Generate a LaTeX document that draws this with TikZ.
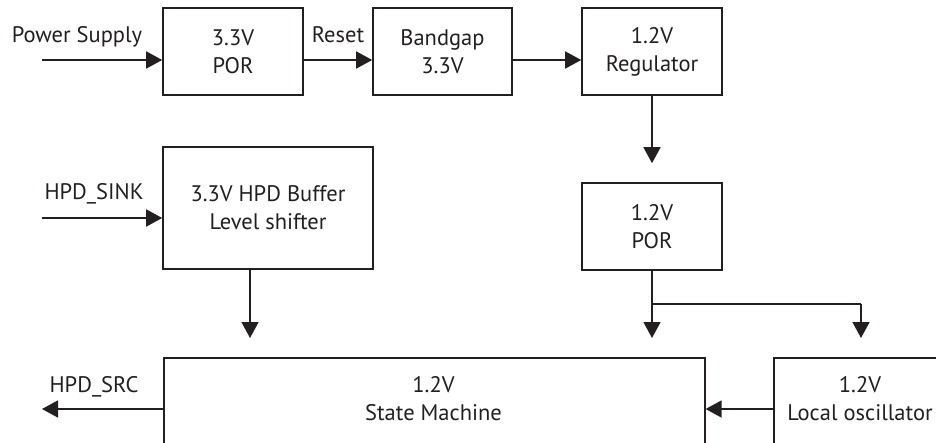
\documentclass[tikz,border=0pt]{standalone}
\usepackage{fontspec}
\setmainfont{PT Sans}
\usetikzlibrary{arrows.meta}
\definecolor{ink}{HTML}{231F20}
\begin{document}
\begin{tikzpicture}[x=1pt,y=-1pt,
  every node/.style={font=\fontsize{22.5}{28}\selectfont, text=ink},
  box/.style={draw=ink, line width=1.6pt, align=center, inner sep=0pt},
  txt/.style={align=center, inner sep=0pt},
  conn/.style={draw=ink, line width=1.6pt},
  arr/.style={conn, -{Triangle[length=16pt,width=17pt]}},
  garr/.style={arr, shorten >=19pt}]
\useasboundingbox (0,0) rectangle (936,443);
\clip (0,0) rectangle (936,443);
% boxes
\node[box, minimum width=140pt, minimum height=87pt] (por33) at (233,51.5) {3.3V\\POR};
\node[box, minimum width=139pt, minimum height=87pt] (bg) at (442.5,51.5) {Bandgap\\3.3V};
\node[box, minimum width=140pt, minimum height=87pt] (reg) at (652,51.5) {1.2V\\Regulator};
\node[box, minimum width=140pt, minimum height=87pt] (por12) at (652,226.5) {1.2V\\POR};
\node[box, minimum width=210pt, minimum height=122pt] (hpd) at (268,208) {3.3V HPD Buffer\\Level shifter};
\node[box, anchor=north west, minimum width=541pt, minimum height=110pt] (sm) at (163,357) {};
\node[txt] (smt) at (433.5,399) {1.2V\\State Machine};
\node[box, anchor=north west, minimum width=174pt, minimum height=110pt] (lo) at (773,357) {};
\node[txt] (lot) at (860,399) {1.2V\\Local oscillator};
% free ends
\coordinate (ps) at (42,60);
\coordinate (sink) at (42,218);
\coordinate (src) at (42,409);
\coordinate (split) at (652,304);
\coordinate (loin) at (861,304);
% labels
\node[txt, anchor=base] (psl) at (77,43) {Power Supply};
\node[txt, anchor=base] (rsl) at (338,43) {Reset};
\node[txt, anchor=base] (sinkl) at (94,200) {HPD\_SINK};
\node[txt, anchor=base] (srcl) at (94,392) {HPD\_SRC};
% connectors
\draw[arr] (ps) -- (ps -| por33.west);
\draw[arr] (por33.east |- ps) -- (bg.west |- ps);
\draw[arr] (bg.east |- ps) -- (reg.west |- ps);
\draw[garr] (reg.south) -- (por12.north);
\draw[arr] (sink) -- (sink -| hpd.west);
\draw[garr] (hpd.south -| 250,0) -- (sm.north -| 250,0);
\draw[garr] (por12.south) -- (sm.north -| por12.south);
\draw[conn] (split) -- (loin);
\draw[garr] (loin) -- (lo.north -| loin);
\draw[arr] (sm.west |- src) -- (src);
\draw[arr] (lo.west |- src) -- (sm.east |- src);
\end{tikzpicture}
\end{document}
